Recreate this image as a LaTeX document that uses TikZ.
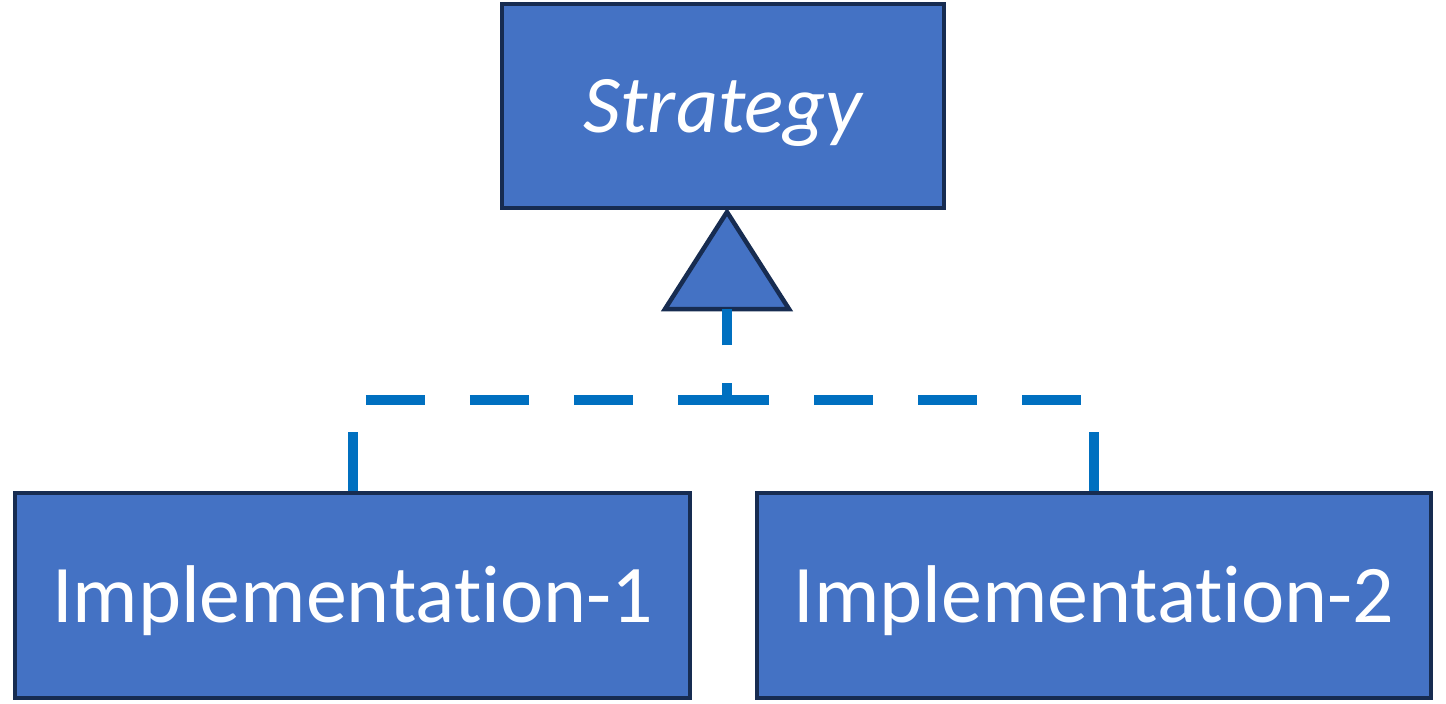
\documentclass[tikz,border=0pt]{standalone}
\usepackage{fontspec}
\setmainfont{Carlito}[Ligatures=NoCommon]
\definecolor{boxfill}{HTML}{4472C4}
\definecolor{boxline}{HTML}{172C51}
\definecolor{dashblue}{HTML}{0070C0}
\begin{document}
\begin{tikzpicture}[x=1cm,y=1cm]
		\begin{scope}[scale=1]
		
		\tikzstyle{mybox}=[rectangle,
		draw=boxline,
		fill=boxfill,
		line width=0.45mm,
		text=white,
		inner sep=0pt,
		text height=6.3mm,
		text depth=1mm,
		font=\fontsize{23.3}{28}\selectfont
		]
		\tikzstyle{mytriangle}=[draw=boxline,
		fill=boxfill,
		line width=0.45mm,
		line join=miter
		]
		\tikzstyle{mydash}=[draw=dashblue,
		line width=1mm,
		dash pattern=on 5.9mm off 4.5mm
		]
		
		\useasboundingbox (0,0) rectangle (14.46,7.03);
		
		\coordinate (ps) at (7.23, 5.97);
		\coordinate (pi1) at (3.525, 1.075);
		\coordinate (pi2) at (10.94, 1.075);
		
		\coordinate (ta) at (7.27, 4.91);
		\coordinate (tl) at (6.65, 3.94);
		\coordinate (tr) at (7.89, 3.94);
		\coordinate (tb) at (7.27, 3.94);
		\coordinate (pm) at (7.27, 3.03);
		
		\node[mybox, minimum width=4.42cm, minimum height=2.04cm] (s) at (ps) {\itshape Strategy};
		\node[mybox, minimum width=6.75cm, minimum height=2.05cm] (i1) at (pi1) {Implementation-1};
		\node[mybox, minimum width=6.74cm, minimum height=2.05cm] (i2) at (pi2) {Implementation-2};
		
		\draw[mytriangle] (ta) -- (tl) -- (tr) -- cycle;
		
		\draw[mydash] (i1.north) |- (pm) -- (tb);
		\draw[mydash] (i2.north) |- (pm) -- (tb);
		
		\end{scope}
\end{tikzpicture}
\end{document}
